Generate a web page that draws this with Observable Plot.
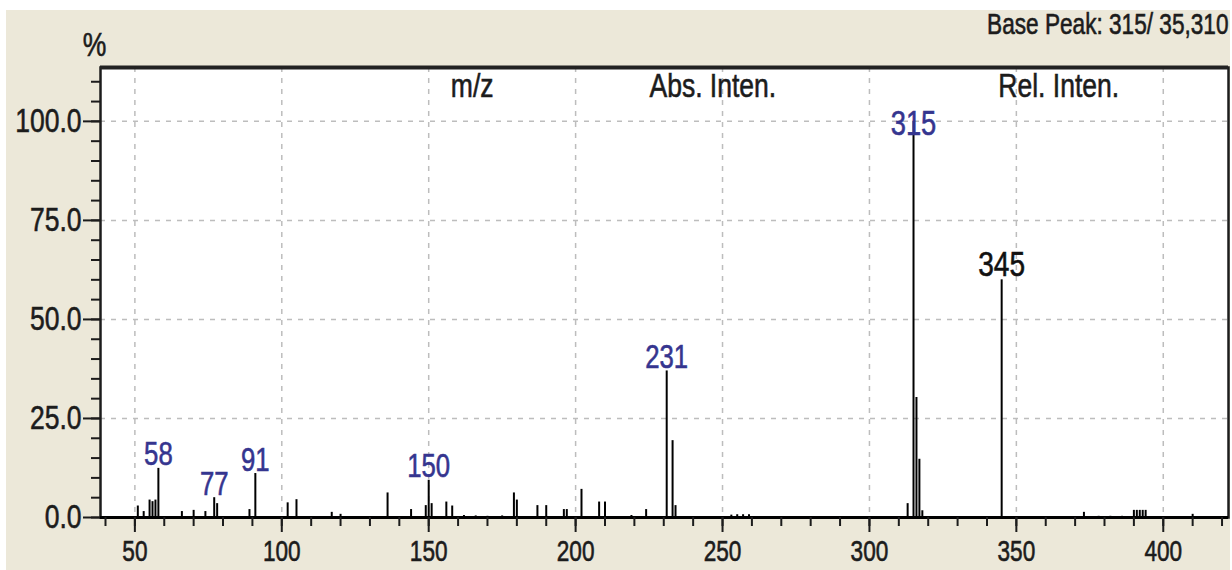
<!DOCTYPE html>
<html>
<head>
<meta charset="utf-8">
<script src="https://cdn.jsdelivr.net/npm/d3@7"></script>
<script src="https://cdn.jsdelivr.net/npm/@observablehq/plot@0.6"></script>
<style>
  html, body { margin: 0; padding: 0; background: #ffffff; }
  #wrap { position: relative; width: 1232px; height: 570px; overflow: hidden; }
  #beige { position: absolute; left: 6px; top: 10px; width: 1224px; height: 560px; background: #ECE8D9; }
  #chart { position: absolute; left: 0; top: 0; }
</style>
</head>
<body>
<div id="wrap"><div id="beige"></div><div id="chart"></div></div>
<script>
// ---- data ----
const mz = [51, 53, 55, 56, 57, 58, 66, 70, 74, 77, 78, 89, 91, 102, 105, 117, 120, 136, 144, 149, 150, 151, 156, 158, 162, 166, 170, 175, 179, 180, 187, 190, 196, 197, 202, 208, 210, 219, 224, 231, 233, 234, 253, 255, 257, 259, 313, 315, 316, 317, 318, 345, 373, 378, 382, 386, 390, 391, 392, 393, 394, 410];
const intensity = [2.9, 1.5, 4.4, 4.0, 4.4, 12.4, 1.5, 1.8, 1.5, 5.0, 3.5, 2.0, 11.1, 3.7, 4.5, 1.3, 0.8, 6.2, 2.0, 3.0, 9.4, 3.5, 3.9, 2.9, 0.5, 0.4, 0.3, 0.4, 6.2, 4.4, 3.0, 3.0, 2.0, 2.0, 7.1, 3.9, 3.9, 0.5, 2.0, 37.0, 19.4, 3.0, 0.6, 0.7, 0.7, 0.7, 3.5, 100.0, 30.3, 14.7, 1.7, 60.0, 1.3, 0.3, 0.3, 0.3, 1.8, 1.8, 1.8, 1.8, 1.8, 0.8];
const blueLabels = [58, 77, 91, 150, 231, 315];
const blackLabels = [345];
const xTicks = [50, 100, 150, 200, 250, 300, 350, 400];
const yTicks = [0, 25, 50, 75, 100];
const headerText = ["m/z", "Abs. Inten.", "Rel. Inten."];
const headerMz = [164.8, 246.7, 364.4];
const titleRight = "Base Peak: 315/ 35,310";
const yUnit = "%";

// ---- build tables ----
const peaks = mz.map((m, i) => ({mz: m, inten: intensity[i]}));
const blue = peaks.filter(d => blueLabels.includes(d.mz));
const black = peaks.filter(d => blackLabels.includes(d.mz));
const headers = headerText.map((t, i) => ({t, x: headerMz[i]}));
const xDomain = [38.3, 422.2];
const yDomain = [0, 113.6];
const minorX = d3.range(40, 421, 10);
const minorY = d3.range(0, 111, 5);

const font = "'Liberation Sans', Arial, sans-serif";
const ink = "#1c1c1c";
const blueInk = "#35358f";
const gridStyle = {stroke: "#bdbdbd", strokeOpacity: 1, strokeWidth: 1.5, strokeDasharray: "5,6"};

const chart = Plot.plot({
  width: 1232,
  height: 570,
  marginLeft: 100,
  marginRight: 4,
  marginTop: 67,
  marginBottom: 53,
  x: {domain: xDomain},
  y: {domain: yDomain},
  style: {background: "transparent", fontFamily: font, color: ink, overflow: "visible"},
  marks: [
    Plot.frame({fill: "white", stroke: "none"}),
    Plot.gridX(xTicks, gridStyle),
    Plot.gridY(yTicks.filter(d => d > 0), gridStyle),
    Plot.ruleX(peaks, {x: "mz", y1: 0, y2: "inten", stroke: "#000", strokeWidth: 2}),
    Plot.frame({stroke: ink, strokeWidth: 2.5}),
    Plot.ruleY([yDomain[1]], {stroke: "#222", strokeWidth: 4}),
    Plot.ruleY([0], {stroke: "#000", strokeWidth: 3}),
    // axes
    Plot.axisY(minorY, {tickSize: 9, tickFormat: () => "", strokeWidth: 2, stroke: ink, label: null}),
    Plot.axisY(yTicks, {tickSize: 17, tickPadding: 2, strokeWidth: 2, stroke: ink, fill: ink, fontSize: 34, tickFormat: d => d.toFixed(1), label: null}),
    Plot.axisX(minorX, {tickSize: 9, tickFormat: () => "", strokeWidth: 2, stroke: ink, label: null}),
    Plot.axisX(xTicks, {tickSize: 15, tickPadding: 8, strokeWidth: 2, stroke: ink, fill: ink, fontSize: 29, label: null}),
    // peak labels
    Plot.text(blue.filter(d => d.inten < 90), {x: "mz", y: "inten", text: d => String(d.mz), lineAnchor: "bottom", dy: -3, fill: blueInk, fontSize: 33}),
    Plot.text(blue.filter(d => d.inten >= 90), {x: "mz", y: "inten", text: d => String(d.mz), lineAnchor: "middle", dy: 2, fill: blueInk, fontSize: 35}),
    Plot.text(black, {x: "mz", y: "inten", text: d => String(d.mz), lineAnchor: "bottom", dy: -4, fill: "#111", fontSize: 36}),
    // header texts
    Plot.text(headers, {x: "x", text: "t", frameAnchor: "top", lineAnchor: "middle", dy: 19, fill: ink, fontSize: 34}),
    Plot.text([yUnit], {frameAnchor: "top-left", lineAnchor: "middle", dx: -6, dy: -22, fill: ink, fontSize: 34, textAnchor: "middle"}),
    Plot.text([titleRight], {frameAnchor: "top-right", lineAnchor: "middle", dy: -43, textAnchor: "end", fill: ink, fontSize: 29})
  ]
});
document.getElementById("chart").appendChild(chart);

// the reference uses a tall, narrow, slightly heavy face: compress every label horizontally about its own anchor
chart.querySelectorAll("text").forEach(t => {
  const b = t.getBBox();
  if (!b.width) return;
  const cs = getComputedStyle(t);
  const ox = cs.textAnchor === "end" ? b.x + b.width : cs.textAnchor === "middle" ? b.x + b.width / 2 : b.x;
  const tr = t.getAttribute("transform") || "";
  t.setAttribute("transform", `${tr} translate(${ox},0) scale(0.78,1) translate(${-ox},0)`);
  t.setAttribute("stroke", cs.fill);
  t.setAttribute("stroke-width", 0.6);
});
</script>
</body>
</html>
